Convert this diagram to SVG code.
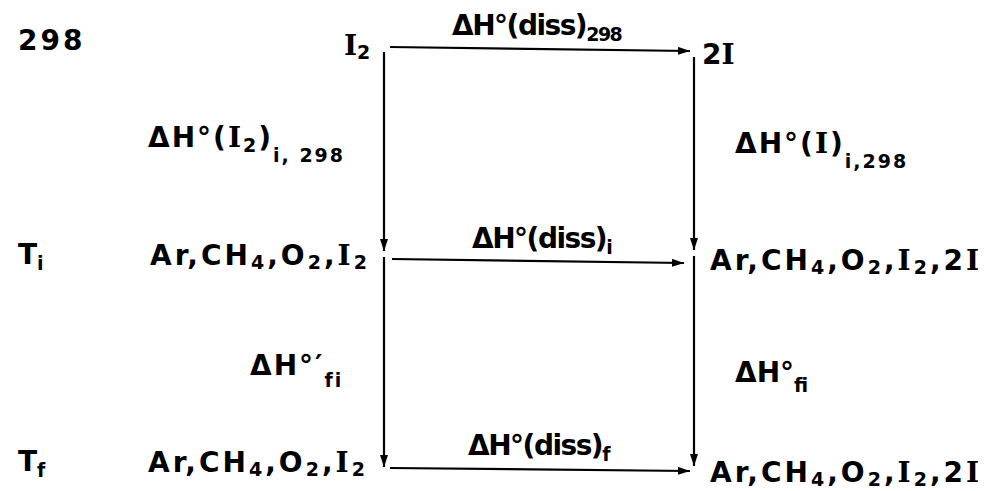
<svg xmlns="http://www.w3.org/2000/svg" width="997" height="491" viewBox="0 0 997 491">
<style>
text{font-family:"DejaVu Sans","Liberation Sans",sans-serif;font-weight:bold;font-size:28px;fill:#000}
.s{font-size:19px}
.I{font-family:"DejaVu Serif","Liberation Serif",serif}
.row{letter-spacing:3px}
.lab{letter-spacing:2px}
.dis{letter-spacing:-1.5px}
.ln{stroke:#000;stroke-width:2.2;fill:none}
</style>
<defs>
<marker id="ah" viewBox="0 0 12 8" refX="12" refY="4" markerWidth="12" markerHeight="8" markerUnits="userSpaceOnUse" orient="auto">
<path d="M0,0 L12,4 L0,8 Z" fill="#000"/>
</marker>
</defs>
<g id="connectors">
<line class="ln" x1="384" y1="52" x2="384" y2="251" marker-end="url(#ah)"/>
<line class="ln" x1="384" y1="257" x2="384" y2="467" marker-end="url(#ah)"/>
<line class="ln" x1="694" y1="57" x2="694" y2="250" marker-end="url(#ah)"/>
<line class="ln" x1="694" y1="256" x2="694" y2="466" marker-end="url(#ah)"/>
<line class="ln" x1="390" y1="47" x2="690" y2="51" marker-end="url(#ah)"/>
<line class="ln" x1="392" y1="259" x2="684" y2="263" marker-end="url(#ah)"/>
<line class="ln" x1="390" y1="468" x2="690" y2="471" marker-end="url(#ah)"/>
</g>
<g id="row298"><text class="row" x="18" y="50">298</text></g>
<g id="n-I2-298"><text x="344" y="55"><tspan class="I">I</tspan><tspan class="s" dy="4">2</tspan></text></g>
<g id="n-2I-298"><text x="702" y="64">2<tspan class="I">I</tspan></text></g>
<g id="lbl-diss298"><text class="dis" x="452" y="35">ΔH°(diss)<tspan class="s" dy="6">298</tspan></text></g>
<g id="lbl-I2-i298"><text class="lab" x="148" y="147">ΔH°(<tspan class="I">I</tspan><tspan class="s" dy="5">2</tspan><tspan dy="-5">)</tspan><tspan class="s" dy="15">i, 298</tspan></text></g>
<g id="lbl-I-i298"><text class="lab" x="735" y="153">ΔH°(<tspan class="I">I</tspan>)<tspan class="s" dy="15">i,298</tspan></text></g>
<g id="rowTi"><text x="18" y="264">T<tspan class="s" dy="6">i</tspan></text></g>
<g id="n-left-i"><text class="row" x="150" y="265">Ar,CH<tspan class="s" dy="4">4</tspan><tspan dy="-4">,O</tspan><tspan class="s" dy="4">2</tspan><tspan dy="-4">,</tspan><tspan class="I">I</tspan><tspan class="s" dy="4">2</tspan></text></g>
<g id="lbl-diss-i"><text class="dis" x="472" y="248">ΔH°(diss)<tspan class="s" dy="6">i</tspan></text></g>
<g id="n-right-i"><text class="row" x="710" y="270">Ar,CH<tspan class="s" dy="4">4</tspan><tspan dy="-4">,O</tspan><tspan class="s" dy="4">2</tspan><tspan dy="-4">,</tspan><tspan class="I">I</tspan><tspan class="s" dy="4">2</tspan><tspan dy="-4">,2</tspan><tspan class="I">I</tspan></text></g>
<g id="lbl-fi-left"><text class="lab" x="250" y="375">ΔH°′<tspan class="s" dy="12">fi</tspan></text></g>
<g id="lbl-fi-right"><text x="735" y="382">ΔH°<tspan class="s" dy="10">fi</tspan></text></g>
<g id="rowTf"><text x="18" y="471">T<tspan class="s" dy="6">f</tspan></text></g>
<g id="n-left-f"><text class="row" x="148" y="472">Ar,CH<tspan class="s" dy="4">4</tspan><tspan dy="-4">,O</tspan><tspan class="s" dy="4">2</tspan><tspan dy="-4">,</tspan><tspan class="I">I</tspan><tspan class="s" dy="4">2</tspan></text></g>
<g id="lbl-diss-f"><text class="dis" x="468" y="455">ΔH°(diss)<tspan class="s" dy="6">f</tspan></text></g>
<g id="n-right-f"><text class="row" x="710" y="482">Ar,CH<tspan class="s" dy="4">4</tspan><tspan dy="-4">,O</tspan><tspan class="s" dy="4">2</tspan><tspan dy="-4">,</tspan><tspan class="I">I</tspan><tspan class="s" dy="4">2</tspan><tspan dy="-4">,2</tspan><tspan class="I">I</tspan></text></g>
</svg>
